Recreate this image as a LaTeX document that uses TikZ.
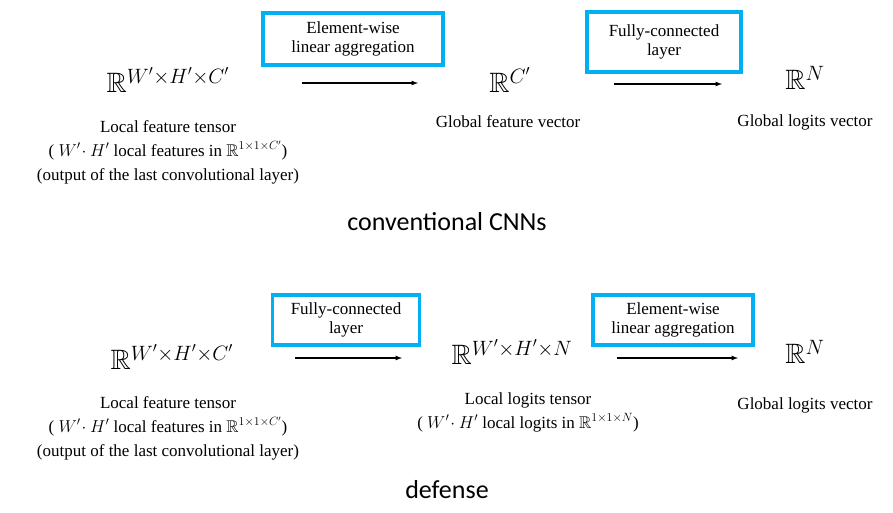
\documentclass[tikz,border=0pt]{standalone}
\usepackage{amssymb}
\usepackage{fontspec}
\setmainfont{Liberation Serif}
\newfontfamily\capfont{Carlito}
\definecolor{boxblue}{RGB}{0,176,240}
\begin{document}
\begin{tikzpicture}[x=1pt,y=-1pt,
  lbl/.style={font=\fontsize{17}{20}\selectfont,align=center,inner sep=0},
  big/.style={font=\fontsize{28}{30}\selectfont,inner sep=0},
  bx/.style={draw=boxblue,line width=3.5pt,font=\fontsize{17}{19}\selectfont,align=center,inner sep=0},
  arr/.style={-latex,line width=1.2pt},
  ttl/.style={font=\capfont\fontsize{26}{30}\selectfont,inner sep=0}]
\useasboundingbox (0,0) rectangle (893,513);
% top
\node[big] (a1) at (168,80) {$\mathbb{R}^{W'\times H'\times C'}$};
\node[lbl] (a1t) at (168,152) {Local feature tensor\\[4pt]( $W'\!\cdot H'$ local features in $\mathbb{R}^{1\times1\times C'}$)\\[4pt](output of the last convolutional layer)};
\node[bx,minimum width=180,minimum height=52] (b1) at (353,39) {Element-wise\\linear aggregation};
\coordinate (p1) at (302,83); \coordinate (q1) at (418,83);
\draw[arr] (p1) -- (q1);
\node[big] (a2) at (510,80) {$\mathbb{R}^{C'}$};
\node[lbl] (a2t) at (508,122) {Global feature vector};
\node[bx,minimum width=154,minimum height=60] (b2) at (664,42) {Fully-connected\\layer};
\coordinate (p2) at (614,84); \coordinate (q2) at (722,84);
\draw[arr] (p2) -- (q2);
\node[big] (a3) at (805,78) {$\mathbb{R}^{N}$};
\node[lbl] (a3t) at (805,122) {Global logits vector};
\node[ttl] (c1) at (447,222) {conventional CNNs};
% bottom
\node[big] (d1) at (172,357) {$\mathbb{R}^{W'\times H'\times C'}$};
\node[lbl] (d1t) at (168,428) {Local feature tensor\\[4pt]( $W'\!\cdot H'$ local features in $\mathbb{R}^{1\times1\times C'}$)\\[4pt](output of the last convolutional layer)};
\node[bx,minimum width=147,minimum height=50] (e1) at (346,320) {Fully-connected\\layer};
\coordinate (p3) at (295,358); \coordinate (q3) at (402,358);
\draw[arr] (p3) -- (q3);
\node[big] (d2) at (512,352) {$\mathbb{R}^{W'\times H'\times N}$};
\node[lbl] (d2t) at (528,412) {Local logits tensor\\[4pt]( $W'\!\cdot H'$ local logits in $\mathbb{R}^{1\times1\times N}$)};
\node[bx,minimum width=160,minimum height=50] (e2) at (673,320) {Element-wise\\linear aggregation};
\coordinate (p4) at (617,358); \coordinate (q4) at (738,358);
\draw[arr] (p4) -- (q4);
\node[big] (d3) at (805,352) {$\mathbb{R}^{N}$};
\node[lbl] (d3t) at (805,405) {Global logits vector};
\node[ttl] (c2) at (447,490) {defense};
\end{tikzpicture}
\end{document}
